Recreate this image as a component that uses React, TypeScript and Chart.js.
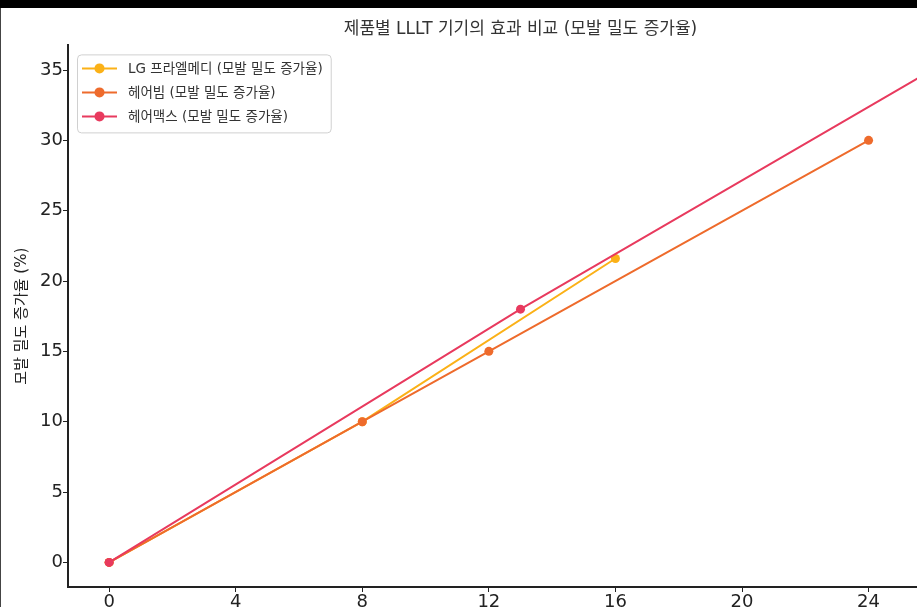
import React, { useEffect, useRef } from "react";
import { Chart, registerables } from "chart.js";

Chart.register(...registerables);

// ---- data ----
const titleText = "제품별 LLLT 기기의 효과 비교 (모발 밀도 증가율)";
const xAxisTitle = "사용 기간 (주)";
const yAxisTitle = "모발 밀도 증가율 (%)";
const seriesLabels = [
  "LG 프라엘메디 (모발 밀도 증가율)",
  "헤어빔 (모발 밀도 증가율)",
  "헤어맥스 (모발 밀도 증가율)",
];
const seriesColors = ["#FBB117", "#EE6B2C", "#E83A5E"];
const lgWeeks = [0, 8, 16];
const lgValues = [0, 10, 21.6];
const beamWeeks = [0, 8, 12, 24];
const beamValues = [0, 10, 15, 30];
const maxWeeks = [0, 13, 26];
const maxValues = [0, 18, 35];
const xTickStep = 4;
const yTickStep = 5;

const FONT = "'DejaVu Sans', 'Noto Sans CJK KR', sans-serif";

function toPoints(xs: number[], ys: number[]) {
  return xs.map((x, i) => ({ x, y: ys[i] }));
}

const boxLegend = {
  id: "boxLegend",
  afterDraw(chart: any) {
    const ctx = chart.ctx as CanvasRenderingContext2D;
    const ca = chart.chartArea;
    const x0 = ca.left + 9;
    const y0 = ca.top + 9;
    ctx.save();
    ctx.font = `13.5px ${FONT}`;
    const tw = Math.max(...seriesLabels.map((l) => ctx.measureText(l).width));
    const w = Math.max(221, tw + 51 + 8);
    const h = 78;
    ctx.beginPath();
    (ctx as any).roundRect(x0 + 0.5, y0 + 0.5, w, h, 4);
    ctx.fillStyle = "rgba(255,255,255,0.85)";
    ctx.fill();
    ctx.strokeStyle = "#d0d0d0";
    ctx.lineWidth = 1;
    ctx.stroke();
    seriesLabels.forEach((label, i) => {
      const cy = y0 + 14 + i * 24;
      ctx.strokeStyle = seriesColors[i];
      ctx.lineWidth = 2;
      ctx.beginPath();
      ctx.moveTo(x0 + 5, cy);
      ctx.lineTo(x0 + 40, cy);
      ctx.stroke();
      ctx.fillStyle = seriesColors[i];
      ctx.beginPath();
      ctx.arc(x0 + 22.5, cy, 5, 0, Math.PI * 2);
      ctx.fill();
      ctx.fillStyle = "#333";
      ctx.textBaseline = "middle";
      ctx.textAlign = "left";
      ctx.fillText(label, x0 + 51, cy + 1);
    });
    ctx.restore();
  },
};

export default function App() {
  const ref = useRef<HTMLCanvasElement | null>(null);

  useEffect(() => {
    if (!ref.current) return;
    const mk = (i: number, xs: number[], ys: number[], order: number) => ({
      label: seriesLabels[i],
      data: toPoints(xs, ys),
      borderColor: seriesColors[i],
      backgroundColor: seriesColors[i],
      pointBackgroundColor: seriesColors[i],
      pointBorderColor: seriesColors[i],
      borderWidth: 2,
      pointRadius: 4.5,
      pointBorderWidth: 0,
      tension: 0,
      fill: false,
      order,
      clip: 0,
    });
    const chart = new Chart(ref.current, {
      type: "line",
      data: {
        datasets: [
          mk(2, maxWeeks, maxValues, 0),
          mk(1, beamWeeks, beamValues, 1),
          mk(0, lgWeeks, lgValues, 2),
        ],
      },
      options: {
        animation: false,
        responsive: false,
        devicePixelRatio: 1,
        layout: { padding: { left: 0, right: 27, top: 0, bottom: 0 } },
        plugins: {
          legend: { display: false },
          tooltip: { enabled: false },
          title: {
            display: true,
            text: titleText,
            fullSize: false,
            color: "#333",
            font: { family: FONT, size: 17, weight: "normal", lineHeight: 1.2 },
            padding: { top: 19, bottom: 6 },
          },
        },
        scales: {
          x: {
            type: "linear",
            min: -1.3,
            max: 27.3,
            afterFit: (s: any) => {
              s.height = 93;
            },
            border: { display: true, color: "#222", width: 2 },
            grid: { drawOnChartArea: false, drawTicks: true, tickLength: 5, tickColor: "#222", tickWidth: 1 },
            ticks: {
              stepSize: xTickStep,
              includeBounds: false,
              color: "#222",
              padding: 0,
              font: { family: FONT, size: 18 },
              maxRotation: 0,
            },
            title: {
              display: true,
              text: xAxisTitle,
              color: "#222",
              font: { family: FONT, size: 16 },
            },
          },
          y: {
            type: "linear",
            min: -1.75,
            max: 36.75,
            afterFit: (s: any) => {
              s.width = 68;
            },
            border: { display: true, color: "#222", width: 2 },
            grid: { drawOnChartArea: false, drawTicks: true, tickLength: 5, tickColor: "#222", tickWidth: 1 },
            ticks: {
              stepSize: yTickStep,
              includeBounds: false,
              color: "#222",
              padding: 0,
              font: { family: FONT, size: 18 },
            },
            title: {
              display: true,
              text: yAxisTitle,
              color: "#222",
              font: { family: FONT, size: 15 },
              padding: { top: 13, bottom: 4 },
            },
          },
        },
      },
      plugins: [boxLegend],
    });
    return () => chart.destroy();
  }, []);

  return (
    <div
      style={{
        position: "fixed",
        left: 0,
        top: 0,
        width: 917,
        height: 607,
        overflow: "hidden",
        background: "#fff",
      }}
    >
      <canvas
        ref={ref}
        width={1000}
        height={680}
        style={{ position: "absolute", left: 0, top: 0, width: 1000, height: 680 }}
      />
      <div style={{ position: "absolute", left: 0, top: 0, width: 917, height: 8, background: "#000" }} />
      <div style={{ position: "absolute", left: 0, top: 8, width: 1, height: 599, background: "#444" }} />
    </div>
  );
}
